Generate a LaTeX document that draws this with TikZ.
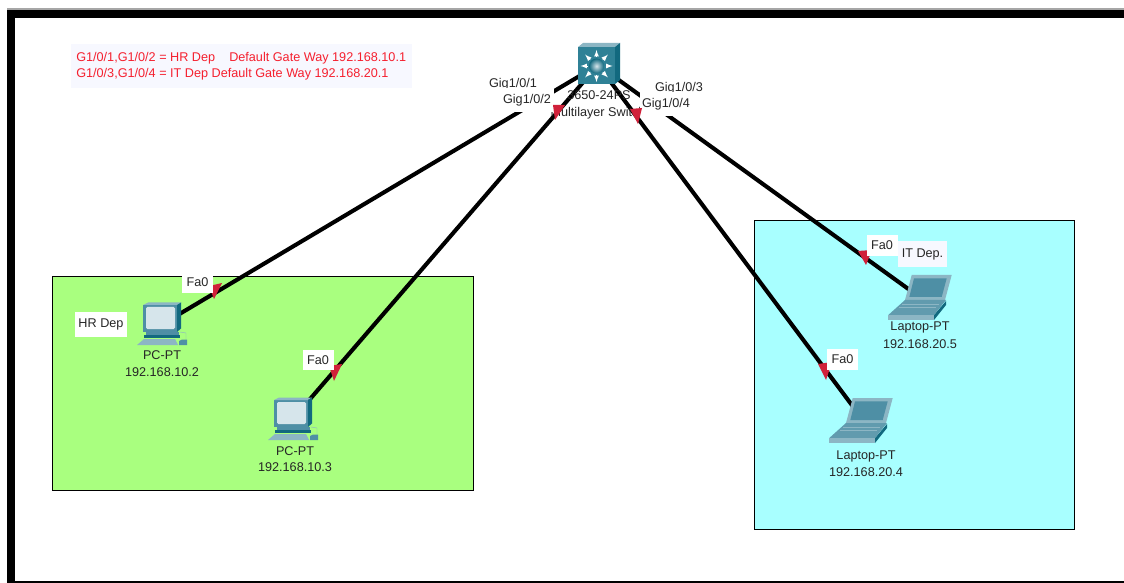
\documentclass[tikz,border=0pt]{standalone}
\usepackage{fontspec}
\setmainfont{Liberation Sans}
\definecolor{hrgreen}{HTML}{A9FF7F}
\definecolor{itcyan}{HTML}{A8FFFF}
\definecolor{notebg}{HTML}{F7F8FF}
\definecolor{devmid}{HTML}{4E8FA5}
\definecolor{devlight}{HTML}{8CB6C4}
\definecolor{devdark}{HTML}{12697F}
\definecolor{devscreen}{HTML}{D6E5EB}
\definecolor{swface}{HTML}{2F8196}
\definecolor{linkred}{HTML}{D0213A}
\definecolor{noteink}{HTML}{F5202F}
\tikzset{
	area/.style={draw=black, line width=0.6pt},
	link/.style={line width=2.9pt, black},
	lbl/.style={font=\fontsize{9}{10.5}\selectfont, text=black!85, inner sep=0pt},
	portbox/.style={lbl, fill=white, minimum width=0.775cm, minimum height=0.52cm},
	gigbox/.style={lbl, fill=white, minimum width=1.325cm, minimum height=0.6cm},
	pcicon/.pic={
		\fill[devmid] (-18,-20) rectangle (16,7);
		\fill[devlight] (-18,-20) -- (-13,-22.5) -- (20,-22.5) -- (16,-20) -- cycle;
		\fill[devdark] (16,-20) -- (20,-22.5) -- (20,3.5) -- (16,7) -- cycle;
		\fill[devscreen, rounded corners=1pt] (-15,-18) rectangle (14,4);
		\fill[devmid] (-15,7) rectangle (18,10);
		\fill[devdark] (-17,10) rectangle (19,12.5);
		\fill[devlight] (-24,20) -- (-17,14) -- (14,14) -- (17,20) -- cycle;
		\draw[devlight, line width=0.3pt] (19,7) -- (25,8) -- (25,15);
		\fill[devmid] (18,16) -- (21,14.5) -- (26,14.5) -- (26,20) -- (18,20) -- cycle;
	},
	lapicon/.pic={
		\fill[devlight] (-20,-1) -- (-13.3,-26) -- (26.7,-26) -- (20,-1) -- cycle;
		\fill[devmid] (-15.7,-4) -- (-11,-22.7) -- (21.7,-22.7) -- (16.7,-4) -- cycle;
		\fill[devdark] (21,0) -- (9,14) -- (9,19) -- (21,4) -- cycle;
		\fill[devmid!70!devlight] (-36.7,14) -- (-20,-1) -- (21,-1) -- (9,14) -- cycle;
		\fill[devlight] (-36.7,14) -- (9,14) -- (9,19) -- (-36.7,19) -- cycle;
		\foreach \k in {3,6}{
			\draw[devlight, line width=0.3pt] (-20-\k,\k) -- (17-\k,\k);
		}
	},
	swicon/.pic={
		\fill[devlight] (-20,-18) -- (-15,-22) -- (22,-22) -- (17,-18) -- cycle;
		\fill[devdark] (17,-18) -- (22,-22) -- (22,15) -- (17,19) -- cycle;
		\fill[swface] (-20,-18) rectangle (17,19);
		\foreach \a in {0,45,...,315}{
			\draw[-latex, white, line width=0.6pt] (-1.5,1) ++(\a:9) -- ++(\a:7);
		}
		\shade[inner color=devscreen, outer color=devdark] (-1.5,1) circle (7.5);
	},
}
\begin{document}
\begin{tikzpicture}[x=0.025cm, y=-0.025cm]
	\useasboundingbox (0,0) rectangle (1124,583);
	% frame
	\fill[white] (0,0) rectangle (1124,583);
	\fill[black!35] (7,8.5) rectangle (1124,10);
	\fill[black] (7,10) rectangle (1124,18);
	\fill[black] (7,10) rectangle (15,583);
	\fill[black] (7,581) rectangle (1124,583);

	\draw[area, fill=hrgreen] (52,276) rectangle (473,490);
	\draw[area, fill=itcyan] (754,220) rectangle (1074,529);

	\node[lbl, fill=notebg, anchor=north west, minimum width=8.525cm, minimum height=1.1cm] (noteBox) at (71,44) {};
	\node[lbl, text=noteink, anchor=west] (noteA) at (76,58) {G1/0/1,G1/0/2 = HR Dep\ \ \ \ Default Gate Way 192.168.10.1};
	\node[lbl, text=noteink, anchor=west] (noteB) at (76,74) {G1/0/3,G1/0/4 = IT Dep Default Gate Way 192.168.20.1};

	\coordinate (swMain) at (598,65);
	\coordinate (pcA) at (161,325);
	\coordinate (pcB) at (292,420);
	\coordinate (lapA) at (925,301);
	\coordinate (lapB) at (866,424);

	\foreach \d in {pcA,pcB,lapA,lapB}{
		\draw[link] (\d) -- (swMain);
	}

	\pic at (swMain) {swicon};
	\pic at (pcA) {pcicon};
	\pic at (pcB) {pcicon};
	\pic at (lapA) {lapicon};
	\pic at (lapB) {lapicon};

	\node[lbl] (swType) at (599,95) {3650-24PS};
	\node[lbl] (swName) at (598,113) {Multilayer Switch};
	\node[lbl] (pcAtype) at (162,355) {PC-PT};
	\node[lbl] (pcAip) at (162,372) {192.168.10.2};
	\node[lbl] (pcBtype) at (295,451) {PC-PT};
	\node[lbl] (pcBip) at (295,467) {192.168.10.3};
	\node[lbl] (lapAtype) at (920,327) {Laptop-PT};
	\node[lbl] (lapAip) at (920,344) {192.168.20.5};
	\node[lbl] (lapBtype) at (866,456) {Laptop-PT};
	\node[lbl] (lapBip) at (866,472) {192.168.20.4};

	\node[gigbox] (gigA) at (513,84) {Gig1/0/1};
	\node[gigbox] (gigB) at (527,100) {Gig1/0/2};
	\node[gigbox] (gigC) at (679,88) {Gig1/0/3};
	\node[gigbox] (gigD) at (666,104) {Gig1/0/4};

	% link lights
	\foreach \ax/\ay/\bx/\by/\cx/\cy in {209/286/222/283/214/299, 329/366/342/364/334/381, 553/105/565/105/555/120, 630/109/642/108/638/124, 858/251/872/250/866/265, 818/364/832/362/826/380}{
		\fill[linkred] (\ax,\ay) -- (\bx,\by) -- (\cx,\cy) -- cycle;
	}

	\node[portbox] (faA) at (197.5,282.5) {Fa0};
	\node[portbox] (faB) at (318,360) {Fa0};
	\node[portbox] (faC) at (882,245.5) {Fa0};
	\node[portbox] (faD) at (842.5,359.5) {Fa0};
	\node[lbl, fill=white, minimum width=1.3cm, minimum height=0.62cm] (hrTag) at (101,324.5) {HR Dep};
	\node[lbl, fill=notebg, minimum width=1.225cm, minimum height=0.65cm] (itTag) at (922.5,254) {IT Dep.};
\end{tikzpicture}
\end{document}
